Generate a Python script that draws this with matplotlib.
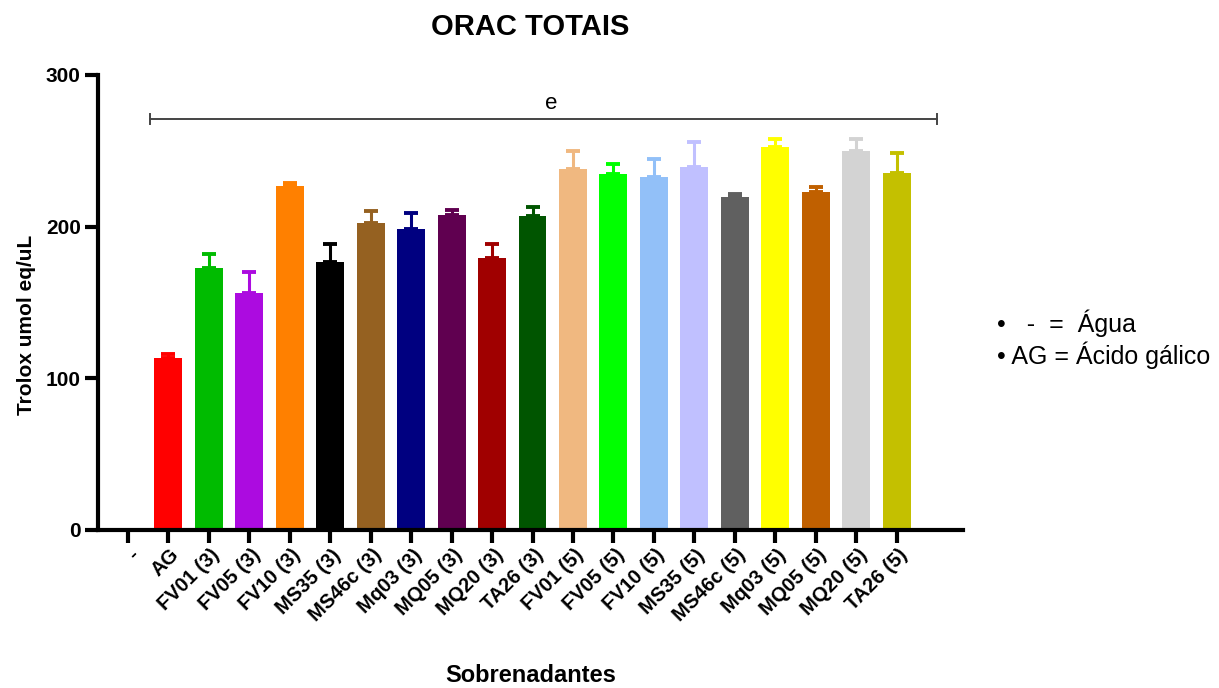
import matplotlib
matplotlib.use("Agg")
import matplotlib.pyplot as plt
import matplotlib.transforms as mtransforms
import numpy as np

categories = ["-", "AG", "FV01 (3)", "FV05 (3)", "FV10 (3)", "MS35 (3)", "MS46c (3)",
              "Mq03 (3)", "MQ05 (3)", "MQ20 (3)", "TA26 (3)", "FV01 (5)", "FV05 (5)",
              "FV10 (5)", "MS35 (5)", "MS46c (5)", "Mq03 (5)", "MQ05 (5)", "MQ20 (5)", "TA26 (5)"]
values = [0, 113.5, 172.6, 156.4, 227.0, 177.0, 202.4, 198.5, 207.5, 179.0, 207.2,
          238.0, 234.4, 232.9, 239.3, 219.5, 252.8, 222.6, 250.0, 235.5]
errors = [0, 2.5, 9.5, 13.5, 1.5, 11.6, 7.7, 10.5, 3.7, 9.6, 5.5,
          11.8, 6.8, 11.6, 16.8, 1.8, 4.9, 3.7, 7.7, 13.0]
colors = ["#FFFFFF", "#FF0000", "#00BB00", "#AC0BE0", "#FF8000", "#000000", "#956121",
          "#000080", "#600050", "#A00000", "#005500", "#F0B880", "#00FF00",
          "#92C0F8", "#C0C0FF", "#606060", "#FFFF00", "#C06000", "#D3D3D3", "#C4C000"]
sig_label = "e"
legend_lines = ["\u2022   -  =  \u00c1gua", "\u2022 AG = \u00c1cido g\u00e1lico"]

plt.rcParams['font.family'] = ['Liberation Sans', 'DejaVu Sans']

fig = plt.figure(figsize=(12.19, 6.88), dpi=100)
ax = fig.add_axes([0.0804, 0.2297, 0.7096, 0.6613])

x = np.arange(len(categories))
ax.bar(x, values, width=0.69, color=colors, edgecolor='none', zorder=2)
for xi, v, e, c in zip(x, values, errors, colors):
    if e > 0:
        ax.errorbar(xi, v, yerr=[[0], [e]], fmt='none', ecolor=c, elinewidth=2.2,
                    capsize=5, capthick=2.8, zorder=1)

# significance bracket
y_sig = 271
ax.plot([0.55, 20.0], [y_sig, y_sig], color='#444444', lw=1.4, zorder=3)
ax.plot([0.55, 0.55], [y_sig - 3.5, y_sig + 3.5], color='#444444', lw=1.4)
ax.plot([20.0, 20.0], [y_sig - 3.5, y_sig + 3.5], color='#444444', lw=1.4)
ax.text(10.46, 281.5, sig_label, ha='center', va='center', fontsize=16)

ax.set_xlim(-0.74, 20.64)
ax.set_ylim(0, 300)
ax.set_yticks([0, 100, 200, 300])
ax.set_xticks(x)

for s in ['top', 'right']:
    ax.spines[s].set_visible(False)
for s in ['left', 'bottom']:
    ax.spines[s].set_linewidth(3)
ax.tick_params(axis='both', direction='out', width=3, length=9.5)
ax.tick_params(axis='y', pad=3)
ax.tick_params(axis='x', pad=6.5)

ax.set_xticklabels(categories, rotation=45, ha='right', va='center', rotation_mode='anchor',
                   fontsize=14.5, fontweight='bold')
shift = mtransforms.ScaledTranslation(0.08, 0, fig.dpi_scale_trans)
for lbl in ax.get_xticklabels():
    lbl.set_transform(lbl.get_transform() + shift)
for lbl in ax.get_yticklabels():
    lbl.set_fontweight('bold')
    lbl.set_fontsize(15)

fig.text(27 / 1219, 1 - 325 / 688, "Trolox umol eq/uL", rotation=90, ha='center', va='center',
         fontsize=15, fontweight='bold')
fig.text(531 / 1219, 1 - 675 / 688, "Sobrenadantes", ha='center', va='center',
         fontsize=17, fontweight='bold')
fig.text(530 / 1219, 1 - 27 / 688, "ORAC TOTAIS", ha='center', va='center',
         fontsize=21, fontweight='bold')

fig.text(997 / 1219, 1 - 323 / 688, legend_lines[0], ha='left', va='center', fontsize=18)
fig.text(997 / 1219, 1 - 355 / 688, legend_lines[1], ha='left', va='center', fontsize=18)

fig.savefig("out.png", dpi=100)
